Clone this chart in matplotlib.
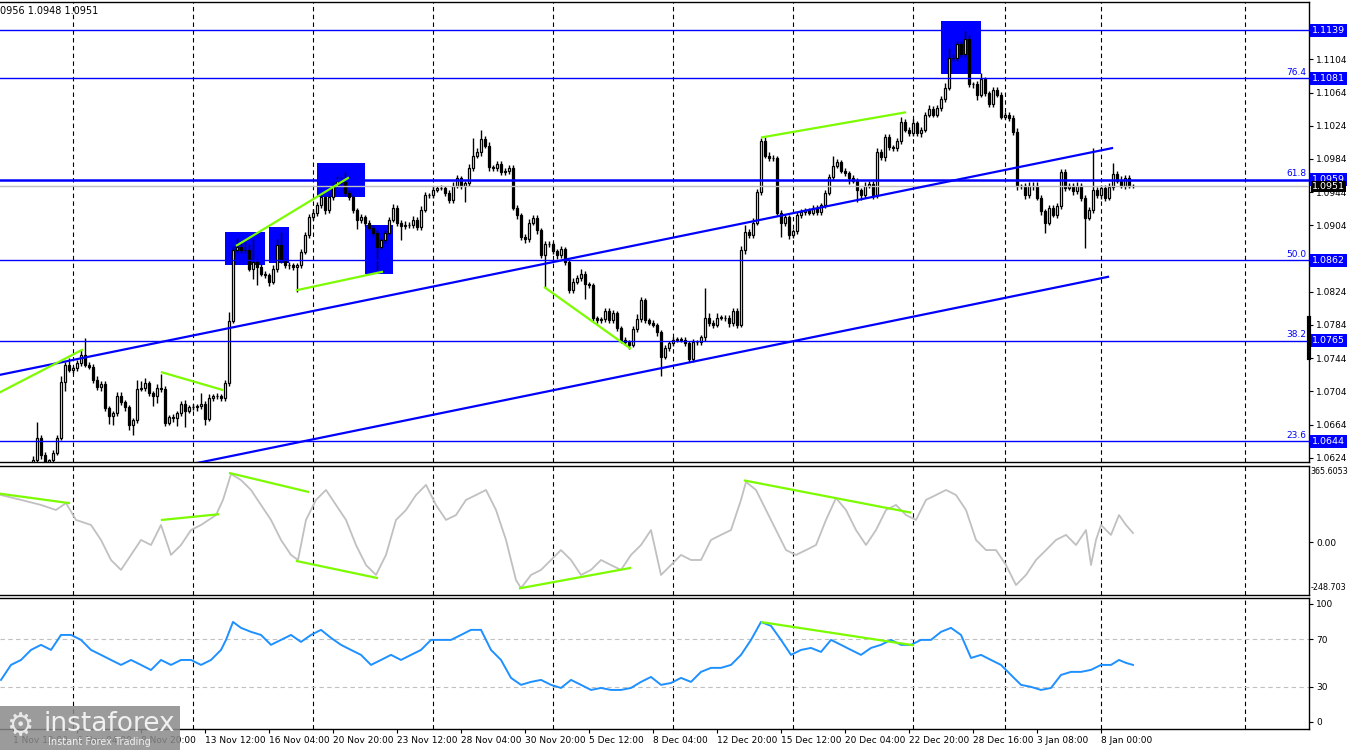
import numpy as np
import matplotlib
matplotlib.use("Agg")
import matplotlib.pyplot as plt
from matplotlib.patches import Rectangle
from matplotlib.transforms import blended_transform_factory

# ---------------- data (EURUSD H4) ----------------
first_open = 1.0560
close = [
    1.0565, 1.0558, 1.0572, 1.0580, 1.0590, 1.0598, 1.0605, 1.0612, 1.0622, 1.0648,
    1.0628, 1.0619, 1.0621, 1.0630, 1.0648, 1.0715, 1.0736, 1.0730, 1.0732, 1.0738,
    1.0748, 1.0736, 1.0734, 1.0718, 1.0709, 1.0713, 1.0684, 1.0675, 1.0678, 1.0699,
    1.0691, 1.0685, 1.0663, 1.0669, 1.0707, 1.0708, 1.0714, 1.0702, 1.0698, 1.0708,
    1.0707, 1.0666, 1.0673, 1.0672, 1.0678, 1.0689, 1.0681, 1.0685, 1.0685, 1.0686,
    1.0689, 1.0671, 1.0696, 1.0698, 1.0698, 1.0696, 1.0714, 1.0789, 1.0874, 1.0878,
    1.0874, 1.0874, 1.0852, 1.0860, 1.0854, 1.0846, 1.0844, 1.0836, 1.0852, 1.0880,
    1.0862, 1.0856, 1.0856, 1.0854, 1.0856, 1.0872, 1.0892, 1.0914, 1.0919, 1.0928,
    1.0938, 1.0922, 1.0938, 1.0952, 1.0958, 1.0956, 1.0943, 1.0938, 1.0922, 1.0910,
    1.0914, 1.0907, 1.0901, 1.0895, 1.0878, 1.0886, 1.0895, 1.0911, 1.0925, 1.0907,
    1.0903, 1.0905, 1.0904, 1.0911, 1.0902, 1.0923, 1.0940, 1.0940, 1.0947, 1.0949,
    1.0949, 1.0943, 1.0934, 1.0952, 1.0961, 1.0952, 1.0955, 1.0973, 1.0988, 1.0992,
    1.1008, 1.1000, 1.0974, 1.0973, 1.0978, 1.0968, 1.0970, 1.0973, 1.0925, 1.0916,
    1.0890, 1.0887, 1.0907, 1.0913, 1.0898, 1.0868, 1.0881, 1.0881, 1.0873, 1.0868,
    1.0875, 1.0860, 1.0826, 1.0836, 1.0840, 1.0846, 1.0833, 1.0832, 1.0792, 1.0790,
    1.0791, 1.0801, 1.0790, 1.0798, 1.0780, 1.0766, 1.0763, 1.0760, 1.0779, 1.0791,
    1.0814, 1.0790, 1.0787, 1.0784, 1.0775, 1.0746, 1.0756, 1.0762, 1.0766, 1.0767,
    1.0766, 1.0762, 1.0743, 1.0763, 1.0763, 1.0769, 1.0793, 1.0786, 1.0784, 1.0793,
    1.0793, 1.0792, 1.0786, 1.0801, 1.0784, 1.0874, 1.0896, 1.0892, 1.0907, 1.0944,
    1.1006, 1.0988, 1.0985, 1.0985, 1.0919, 1.0907, 1.0914, 1.0892, 1.0897, 1.0916,
    1.0920, 1.0922, 1.0919, 1.0925, 1.0920, 1.0928, 1.0943, 1.0962, 1.0976, 1.0980,
    1.0970, 1.0967, 1.0961, 1.0958, 1.0946, 1.0940, 1.0952, 1.0954, 1.0940, 1.0992,
    1.0986, 1.1010, 1.0998, 1.0997, 1.1005, 1.1028, 1.1019, 1.1015, 1.1027, 1.1015,
    1.1019, 1.1037, 1.1044, 1.1037, 1.1045, 1.1056, 1.1070, 1.1105, 1.1105, 1.1122,
    1.1110, 1.1129, 1.1074, 1.1074, 1.1061, 1.1080, 1.1063, 1.1050, 1.1067, 1.1061,
    1.1035, 1.1037, 1.1033, 1.1016, 1.0951, 1.0951, 1.0940, 1.0952, 1.0951, 1.0937,
    1.0921, 1.0907, 1.0925, 1.0917, 1.0927, 1.0968, 1.0949, 1.0951, 1.0945, 1.0952,
    1.0937, 1.0913, 1.0922, 1.0947, 1.0940, 1.0949, 1.0937, 1.0950, 1.0966, 1.0958,
    1.0952, 1.0961, 1.0952, 1.0951,
]
# wick lengths above / below the body, in pips
up_wick = [
    4, 3, 5, 3, 4, 3, 4, 3, 4, 19,
    3, 3, 2, 3, 3, 7, 3, 8, 3, 4,
    6, 20, 3, 3, 4, 3, 3, 3, 3, 4,
    4, 3, 3, 3, 11, 8, 6, 3, 3, 5,
    17, 3, 3, 4, 3, 4, 5, 3, 4, 3,
    13, 3, 5, 3, 4, 3, 4, 11, 5, 11,
    5, 10, 8, 27, 3, 3, 3, 3, 4, 8,
    16, 3, 4, 3, 3, 3, 4, 4, 5, 4,
    5, 3, 5, 4, 6, 4, 12, 3, 3, 3,
    4, 3, 3, 3, 3, 3, 4, 3, 5, 4,
    3, 4, 3, 4, 3, 4, 4, 3, 4, 3,
    4, 3, 3, 4, 4, 3, 3, 5, 21, 5,
    11, 4, 4, 3, 4, 3, 3, 4, 4, 3,
    3, 3, 5, 4, 3, 3, 4, 4, 3, 3,
    4, 3, 3, 4, 4, 6, 3, 3, 3, 3,
    3, 4, 3, 4, 3, 3, 3, 3, 4, 6,
    4, 3, 3, 3, 3, 3, 4, 3, 4, 3,
    3, 3, 3, 4, 3, 3, 35, 5, 4, 5,
    3, 3, 4, 4, 3, 5, 8, 4, 6, 4,
    3, 4, 4, 4, 3, 3, 4, 3, 3, 4,
    4, 3, 3, 4, 4, 3, 4, 4, 12, 4,
    3, 3, 3, 4, 3, 3, 4, 3, 3, 5,
    4, 4, 4, 3, 4, 7, 4, 4, 5, 3,
    4, 4, 5, 4, 4, 4, 5, 12, 5, 4,
    4, 10, 4, 3, 4, 8, 3, 3, 4, 4,
    4, 3, 3, 4, 5, 3, 4, 4, 4, 5,
    3, 3, 4, 4, 4, 4, 4, 4, 4, 4,
    3, 3, 4, 50, 3, 4, 4, 5, 13, 4,
    5, 4, 4, 2,
]
lo_wick = [
    4, 4, 3, 5, 3, 4, 3, 4, 4, 4,
    5, 8, 4, 3, 3, 3, 10, 3, 4, 3,
    3, 3, 3, 4, 3, 4, 3, 10, 11, 3,
    3, 4, 6, 12, 3, 3, 4, 3, 11, 8,
    4, 4, 3, 5, 10, 4, 20, 3, 3, 4,
    3, 7, 3, 4, 3, 3, 4, 3, 3, 3,
    3, 3, 3, 13, 22, 3, 3, 5, 3, 4,
    3, 3, 4, 4, 30, 3, 3, 3, 3, 4,
    3, 4, 3, 3, 3, 3, 4, 3, 3, 10,
    3, 4, 3, 4, 28, 3, 3, 3, 3, 4,
    17, 3, 3, 3, 4, 3, 3, 3, 3, 3,
    3, 4, 3, 3, 3, 4, 20, 3, 3, 3,
    4, 3, 4, 3, 3, 3, 3, 4, 3, 4,
    4, 4, 3, 3, 4, 3, 38, 3, 3, 4,
    3, 4, 4, 3, 3, 3, 18, 3, 3, 4,
    3, 3, 4, 3, 3, 4, 3, 5, 3, 3,
    3, 4, 3, 3, 4, 23, 3, 3, 3, 3,
    3, 3, 3, 4, 3, 3, 4, 3, 4, 3,
    3, 3, 4, 3, 4, 3, 4, 3, 3, 3,
    3, 3, 3, 3, 3, 17, 4, 4, 3, 3,
    3, 3, 3, 3, 4, 3, 3, 3, 3, 3,
    3, 3, 7, 3, 14, 5, 3, 3, 4, 3,
    3, 4, 3, 3, 3, 3, 3, 3, 3, 3,
    4, 3, 3, 3, 3, 3, 3, 3, 3, 3,
    3, 3, 3, 4, 6, 3, 3, 4, 3, 3,
    3, 3, 3, 3, 4, 3, 4, 3, 4, 3,
    4, 12, 3, 3, 4, 3, 4, 3, 4, 3,
    4, 36, 3, 3, 3, 4, 4, 3, 4, 3,
    3, 4, 3, 2,
]

fib_levels = [1.1139, 1.1081, 1.0959, 1.0862, 1.0765, 1.0644]
fib_names = ["", "76.4", "61.8", "50.0", "38.2", "23.6"]
last_price = 1.0951
price_ticks = [1.1104, 1.1064, 1.1024, 1.0984, 1.0944, 1.0904, 1.0824,
               1.0784, 1.0744, 1.0704, 1.0664, 1.0624]

# channel lines: (bar0, price0, bar1, price1)
channels = [(-0.25, 1.0724, 277.75, 1.0997),
            (49.25, 1.0618, 276.75, 1.0842)]
# green divergence lines in price panel
div_price = [(-0.25, 1.0703, 20.25, 1.0754),
             (40.25, 1.0727, 55.25, 1.0706),
             (59.0, 1.0880, 86.75, 1.0961),
             (74.0, 1.0826, 95.25, 1.0848),
             (136.0, 1.0829, 157.25, 1.0756),
             (190.25, 1.1010, 226.0, 1.1040)]
# blue boxes: (bar0, bar1, price_low, price_high)
boxes = [(56.0, 66.0, 1.0856, 1.0896),
         (67.0, 72.0, 1.0859, 1.0902),
         (79.0, 91.0, 1.0938, 1.0979),
         (91.0, 98.0, 1.0846, 1.0905),
         (235.0, 245.0, 1.1086, 1.1150)]

# CCI
cci_bar = [0, 5, 10, 13.75, 16.25, 18.75, 22.5, 25, 27.5, 30,
           32.5, 35, 37.5, 40, 42.5, 45, 47.5, 50, 53.75, 55.5,
           57.5, 60, 62.5, 65, 67.5, 70, 72.5, 74.25, 76.25, 78.75,
           81.25, 83.75, 86.25, 88.75, 91.25, 93.75, 96.25, 98.75, 101.25, 103.75,
           106.25, 108.75, 111.25, 113.75, 116.25, 118.75, 121.25, 123.75, 126.25, 128.75,
           130, 132.5, 135, 137.5, 140, 142.5, 145, 147.5, 150, 152.5,
           155, 157.5, 160, 162.5, 165, 167.5, 170, 172.5, 175, 177.5,
           180, 182.5, 185, 186.25, 188.75, 191.25, 193.75, 196.25, 198.75, 201.25,
           203.75, 206.25, 208.75, 211.25, 213.75, 216.25, 218.75, 221.25, 223.75, 226.25,
           228.75, 231.25, 233.75, 236.25, 238.75, 241.25, 243.75, 246.25, 248.75, 251.25,
           253.75, 256.25, 258.75, 261.25, 263.75, 266.25, 268.75, 271.25, 272.5, 273.75,
           275, 277.5, 279.5, 281.25, 283]
cci = [253, 227, 200, 173, 210, 120, 93, 13, -94, -147,
       -67, 13, -14, 93, -67, -14, 66, 93, 146, 227,
       365, 333, 280, 200, 120, 13, -67, -94, 120, 227,
       280, 200, 120, -14, -121, -174, -67, 120, 173, 253,
       307, 200, 120, 146, 227, 253, 280, 173, 13, -201,
       -244, -174, -147, -94, -41, -94, -174, -147, -94, -121,
       -147, -67, -14, 66, -174, -121, -67, -94, -94, 13,
       40, 66, 227, 323, 280, 173, 66, -41, -67, -41,
       -14, 120, 237, 173, 66, -14, 66, 173, 200, 146,
       120, 227, 253, 280, 253, 173, 13, -41, -41, -121,
       -228, -174, -94, -41, 13, 40, -14, 66, -121, 13,
       93, 40, 146, 93, 50]
div_cci = [(-0.25, 260, 17.0, 210),
           (40.25, 120, 54.25, 150),
           (57.25, 370, 76.75, 270),
           (74.0, -100, 94.0, -190),
           (129.75, -245, 157.25, -137),
           (186.0, 330, 227.25, 160)]

# RSI
rsi_bar = [0, 2.5, 5, 7.5, 10, 12.5, 15, 17.5, 20, 22.5, 25, 27.5, 30, 32.5, 35,
           37.5, 40, 42.5, 45, 47.5, 50, 52.5, 55, 56.25, 58,
           60, 62.5, 65, 67.5, 70, 72.5, 75, 77.5, 80, 82.5, 85, 87.5, 90, 92.5, 95,
           97.5, 100, 102.5, 105, 107.5, 110, 112.5, 115, 117.5, 120, 122.5, 125,
           127.5, 130, 132.5, 135, 137.5, 140, 142.5, 145, 147.5, 150, 152.5, 155,
           157.5, 160, 162.5, 165, 167.5, 170, 172.5, 175, 177.5, 180, 182.5, 185,
           187.5, 190, 192.5, 195, 197.5, 200, 202.5, 205, 207.5, 210, 212.5, 215,
           217.5, 220, 222.5, 225, 227.5, 230, 232.5, 235, 237.5, 240, 242.5, 245,
           247.5, 250, 252.5, 255, 257.5, 260, 262.5, 265, 267.5, 270, 272.5, 275,
           277.5, 279.5, 281.25, 283]
rsi = [35.6, 48.3, 52.5, 61.0, 65.3, 61.0, 73.7, 73.7, 69.5, 61.0, 56.8, 52.5, 48.3, 52.5, 48.3,
       44.0, 52.5, 48.3, 52.5, 52.5, 48.3, 52.5, 61.0, 69.5, 84.7,
       79.7, 76.3, 73.7, 65.3, 69.5, 73.7, 67.8, 73.7, 78.0, 71.2, 65.3, 61.0, 56.8, 48.3, 52.5,
       56.8, 52.5, 56.8, 61.0, 69.5, 69.5, 69.5, 73.7, 78.0, 78.0, 61.0, 52.5,
       37.3, 31.4, 33.9, 35.6, 31.4, 28.8, 35.6, 31.4, 27.1, 28.8, 27.1, 27.1,
       28.8, 33.9, 38.1, 31.4, 33.0, 37.3, 33.9, 42.4, 45.8, 45.8, 48.3, 56.8,
       69.5, 84.7, 81.4, 69.5, 56.8, 61.0, 62.7, 59.3, 69.5, 65.3, 61.0, 56.8,
       62.7, 65.3, 69.5, 65.3, 65.3, 69.5, 69.5, 76.3, 79.7, 73.7, 54.2, 56.8,
       52.5, 48.3, 39.8, 31.4, 29.7, 27.1, 28.8, 39.8, 42.4, 42.4, 44.1, 48.3,
       48.3, 52.5, 50.0, 48.3]
div_rsi = [(190.25, 84.5, 228.0, 65.0)]

week_bars = [18, 48, 78, 108, 138, 168, 198, 228, 251, 275, 311]
time_bars = [3, 19, 35, 51, 67, 83, 99, 115, 131, 147, 163, 179, 195, 211, 227, 243, 259, 275]
time_labels = ["1 Nov 12:00", "6 Nov 04:00", "8 Nov 20:00", "13 Nov 12:00", "16 Nov 04:00",
               "20 Nov 20:00", "23 Nov 12:00", "28 Nov 04:00", "30 Nov 20:00", "5 Dec 12:00",
               "8 Dec 04:00", "12 Dec 20:00", "15 Dec 12:00", "20 Dec 04:00", "22 Dec 20:00",
               "28 Dec 16:00", "3 Jan 08:00", "8 Jan 00:00"]

# ---------------- figure ----------------
plt.rcParams['font.family'] = ['DejaVu Sans']
W, H = 1350, 750
fig = plt.figure(figsize=(W / 100, H / 100), dpi=100)
fig.patch.set_facecolor('white')


def rect(x0, y0, x1, y1):
    return [x0 / W, 1 - y1 / H, (x1 - x0) / W, (y1 - y0) / H]


ax = fig.add_axes(rect(0, 2, 1309, 462))
ax_cci = fig.add_axes(rect(0, 466, 1309, 595))
ax_rsi = fig.add_axes(rect(0, 598, 1309, 729))

BLUE = '#0000FF'
GREEN = '#7CFC00'
FS = 6.5

for a in (ax, ax_cci, ax_rsi):
    a.set_xlim(-0.25, 327)
    a.spines['left'].set_visible(False)
    for s in ('top', 'right', 'bottom'):
        a.spines[s].set_linewidth(1.0)
        a.spines[s].set_color('black')
    a.yaxis.tick_right()
    a.tick_params(axis='y', length=3, width=0.8, labelsize=FS, pad=2, colors='black')
    a.set_xticks([])
    for wb in week_bars:
        a.axvline(wb, color='black', lw=0.8, ls=(0, (4, 3)), zorder=1)

# ---- price panel ----
ax.set_ylim(1.0619, 1.1173)
ax.set_yticks(price_ticks)
ax.set_yticklabels([f"{p:.4f}" for p in price_ticks])

x = np.arange(len(close))
c = np.array(close)
o = np.array([first_open] + close[:-1])
hi = np.maximum(o, c) + np.array(up_wick) * 0.0001
lo = np.minimum(o, c) - np.array(lo_wick) * 0.0001

for b0, b1, p0, p1 in boxes:
    ax.add_patch(Rectangle((b0, p0), b1 - b0, p1 - p0, facecolor=BLUE,
                           edgecolor='none', zorder=2))

ax.vlines(x, lo, hi, color='black', lw=1.0, zorder=3)
bull = c >= o
body_h = np.maximum(np.abs(c - o), 0.00004)
ax.bar(x, body_h, bottom=np.minimum(o, c), width=0.72,
       color=np.where(bull, 'white', 'black'), edgecolor='black',
       linewidth=0.9, zorder=3.1)

ax.axhline(last_price, color='#C0C0C0', lw=1.0, zorder=3.5)
for lvl, name in zip(fib_levels, fib_names):
    ax.axhline(lvl, color=BLUE, lw=1.8 if name == "61.8" else 1.0, zorder=4)
    if name:
        ax.text(326.3, lvl + 0.0002, name, color=BLUE, fontsize=FS,
                ha='right', va='bottom', zorder=5)

for b0, p0, b1, p1 in channels:
    ax.plot([b0, b1], [p0, p1], color=BLUE, lw=1.6, zorder=4)
for b0, p0, b1, p1 in div_price:
    ax.plot([b0, b1], [p0, p1], color=GREEN, lw=1.6, zorder=5)

tr = blended_transform_factory(ax.transAxes, ax.transData)
for lvl in fib_levels:
    ax.text(1.0025, lvl, f"{lvl:.4f}", transform=tr, color='white', fontsize=6.8,
            ha='left', va='center', zorder=6, clip_on=False,
            bbox=dict(boxstyle='square,pad=0.2', fc=BLUE, ec='none'))
ax.text(1.0025, last_price - 0.00005, f"{last_price:.4f}", transform=tr, color='white',
        fontsize=6.8, ha='left', va='center', zorder=6, clip_on=False,
        bbox=dict(boxstyle='square,pad=0.12', fc='black', ec='none'))
ax.plot([1.0, 1.0], [1.0744, 1.0793], transform=tr, color='black', lw=3,
        clip_on=False, zorder=6)

fig.text(0.0, 1 - 11 / H, "0956 1.0948 1.0951", fontsize=7, color='black',
         ha='left', va='center')

# ---- CCI panel ----
ax_cci.set_ylim(-281, 408)
ax_cci.set_yticks([0])
ax_cci.set_yticklabels(["0.00"])
ax_cci.plot(cci_bar, cci, color='#C0C0C0', lw=1.3, zorder=3)
for b0, v0, b1, v1 in div_cci:
    ax_cci.plot([b0, b1], [v0, v1], color=GREEN, lw=1.6, zorder=4)
ax_cci.text(1.001, 0.955, "365.6053", transform=ax_cci.transAxes, fontsize=5.8,
            ha='left', va='center', clip_on=False)
ax_cci.text(1.001, 0.055, "-248.703", transform=ax_cci.transAxes, fontsize=5.8,
            ha='left', va='center', clip_on=False)

# ---- RSI panel ----
ax_rsi.set_ylim(-6, 105)
ax_rsi.set_yticks([100, 70, 30, 0])
ax_rsi.set_yticklabels(["100", "70", "30", "0"])
for lv in (70, 30):
    ax_rsi.axhline(lv, color='#C0C0C0', lw=0.8, ls=(0, (4, 3)), zorder=2)
ax_rsi.plot(rsi_bar, rsi, color='#1E90FF', lw=1.4, zorder=3)
for b0, v0, b1, v1 in div_rsi:
    ax_rsi.plot([b0, b1], [v0, v1], color=GREEN, lw=1.6, zorder=4)

ax_rsi.set_xticks(time_bars)
ax_rsi.set_xticklabels(time_labels, fontsize=FS, ha='left')
ax_rsi.tick_params(axis='x', length=3, width=0.8, pad=2, direction='out')

# ---- watermark ----
fig.patches.append(Rectangle((0, 0), 180 / W, 44 / H, transform=fig.transFigure,
                             facecolor='#8a8a8a', alpha=0.85, edgecolor='none', zorder=10))
fig.text(6 / W, 1 - 727 / H, "\u2699", fontsize=22, color='#e8e8e8', ha='left',
         va='center', zorder=11)
fig.text(44 / W, 1 - 724 / H, "instaforex", fontsize=19, color='#f0f0f0', ha='left',
         va='center', zorder=11)
fig.text(48 / W, 1 - 742 / H, "Instant Forex Trading", fontsize=7, color='#f0f0f0',
         ha='left', va='center', zorder=11)

fig.savefig("out.png", dpi=100)
